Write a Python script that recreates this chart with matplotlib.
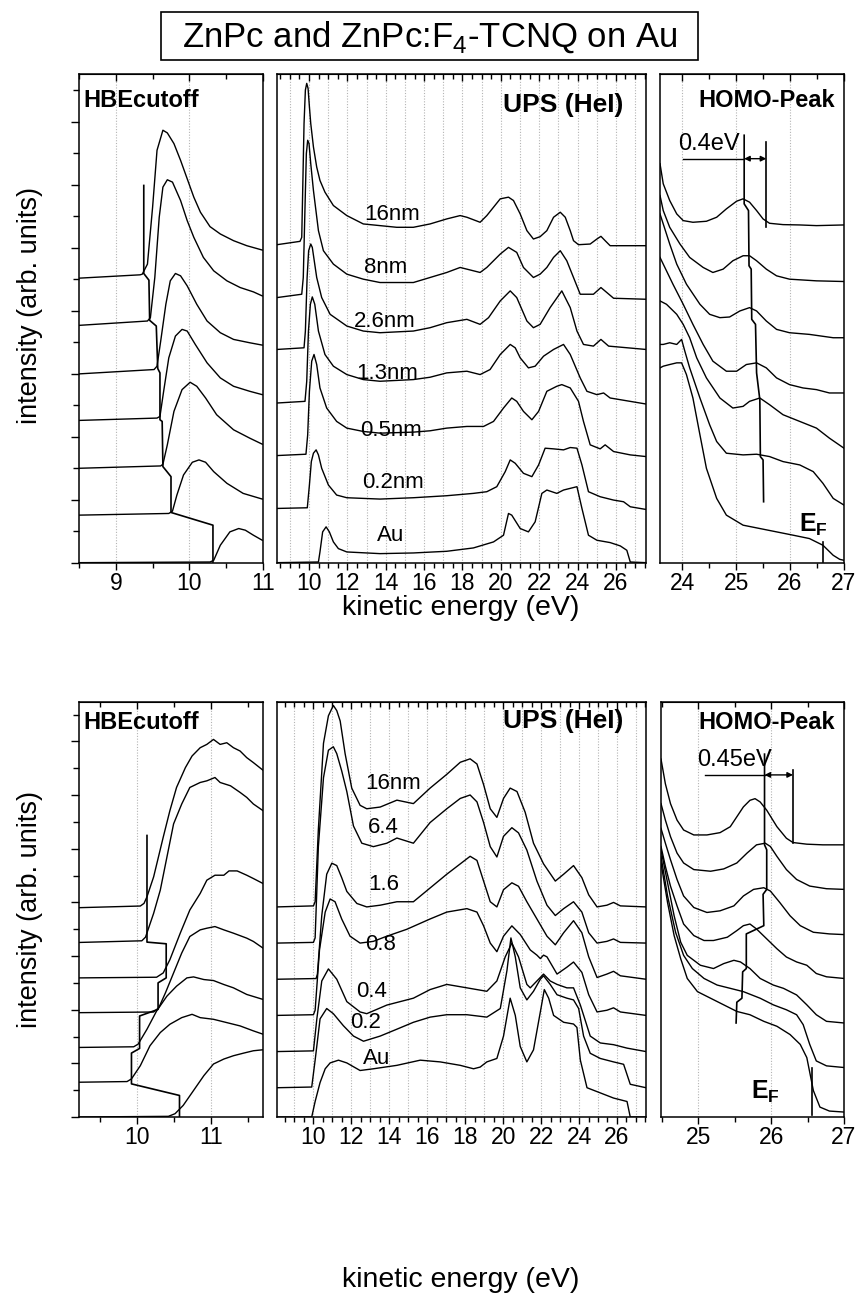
import numpy as np
import matplotlib
matplotlib.use("Agg")
import matplotlib.pyplot as plt
from matplotlib.patches import Rectangle
from matplotlib.ticker import MultipleLocator, NullFormatter

plt.rcParams['font.family'] = ['Liberation Sans', 'DejaVu Sans']
plt.rcParams['mathtext.fontset'] = 'custom'
plt.rcParams['mathtext.rm'] = 'Liberation Sans'
plt.rcParams['mathtext.bf'] = 'Liberation Sans:bold'

# ---------------- top row: ZnPc on Au ----------------
A_names = ['16nm', '8nm', '2.6nm', '1.3nm', '0.5nm', '0.2nm', 'Au']

# high binding energy cutoff
A_cut_x = [
    [8.50, 9.33, 9.36, 9.43, 9.50, 9.56, 9.64, 9.70, 9.79, 9.88, 9.97, 10.06, 10.15, 10.28, 10.42, 10.60, 10.78, 10.99],
    [8.50, 9.43, 9.47, 9.53, 9.59, 9.64, 9.70, 9.77, 9.88, 9.97, 10.06, 10.19, 10.33, 10.51, 10.69, 10.87, 10.99],
    [8.50, 9.52, 9.56, 9.61, 9.68, 9.74, 9.81, 9.88, 9.97, 10.10, 10.24, 10.42, 10.60, 10.82, 10.99],
    [8.50, 9.56, 9.60, 9.65, 9.72, 9.81, 9.90, 9.97, 10.08, 10.24, 10.42, 10.60, 10.82, 10.99],
    [8.50, 9.61, 9.64, 9.70, 9.79, 9.90, 10.01, 10.10, 10.22, 10.37, 10.60, 10.82, 10.99],
    [8.50, 9.72, 9.77, 9.83, 9.92, 10.04, 10.13, 10.22, 10.33, 10.51, 10.73, 10.99],
    [8.50, 10.28, 10.33, 10.42, 10.55, 10.67, 10.76, 10.87, 10.99],
]
A_cut_y = [
    [851, 861, 863, 893, 1063, 1233, 1293, 1285, 1253, 1203, 1148, 1093, 1048, 1005, 983, 963, 948, 935],
    [710, 723, 733, 853, 1033, 1123, 1145, 1138, 1083, 1023, 973, 913, 873, 843, 823, 810, 798],
    [565, 578, 588, 663, 773, 843, 865, 858, 828, 773, 723, 688, 668, 658, 651],
    [426, 433, 438, 513, 613, 678, 698, 693, 653, 598, 553, 528, 513, 503],
    [283, 290, 295, 353, 453, 518, 540, 528, 493, 443, 398, 373, 355],
    [143, 148, 155, 203, 263, 301, 308, 301, 273, 238, 208, 191],
    [1, 3, 8, 53, 93, 103, 98, 83, 68],
]
A_cut_edge_x = [9.38, 9.38, 9.45, 9.46, 9.55, 9.57, 9.60, 9.60, 9.63, 9.64, 9.75, 9.75, 10.32, 10.32]
A_cut_edge_y = [1128, 865, 845, 725, 708, 581, 568, 428, 423, 288, 258, 151, 113, 3]

# full UPS spectra
A_ups_x = [
    [8.33, 9.53, 9.62, 9.67, 9.74, 9.81, 9.88, 9.95, 10.02, 10.09, 10.23, 10.40, 10.57, 10.83, 11.27, 11.97,
     12.83, 13.70, 14.57, 15.44, 16.31, 17.18, 17.88, 18.23, 18.92, 19.27, 19.97, 20.40, 20.66, 21.01, 21.36,
     21.70, 22.05, 22.40, 22.75, 23.10, 23.36, 23.62, 23.79, 24.05, 24.66, 25.01, 25.22, 25.44, 25.70, 27.57],
    [8.33, 9.62, 9.70, 9.79, 9.86, 9.93, 10.00, 10.09, 10.23, 10.49, 10.75, 11.27, 11.97, 12.83, 13.70, 15.44,
     16.31, 17.18, 17.88, 18.92, 19.27, 19.97, 20.40, 20.83, 21.18, 21.70, 22.05, 22.40, 22.75, 23.10, 23.44,
     23.79, 24.14, 24.83, 25.22, 25.53, 25.88, 27.57],
    [8.33, 9.74, 9.81, 9.90, 9.98, 10.09, 10.17, 10.40, 10.66, 11.10, 11.97, 12.83, 13.70, 15.44, 16.31, 17.18,
     18.23, 18.92, 19.36, 19.97, 20.49, 20.83, 21.36, 21.70, 22.05, 22.57, 23.18, 23.62, 23.97, 24.31, 24.83,
     25.22, 25.62, 27.57],
    [8.33, 9.79, 9.88, 9.97, 10.07, 10.17, 10.30, 10.49, 10.83, 11.27, 11.97, 12.83, 13.70, 15.44, 16.31, 17.18,
     18.23, 18.92, 19.44, 19.97, 20.49, 20.75, 21.01, 21.44, 21.79, 22.23, 22.75, 23.27, 23.62, 24.14, 24.49,
     25.01, 25.36, 25.70, 27.57],
    [8.33, 9.84, 9.93, 10.02, 10.14, 10.26, 10.40, 10.57, 10.92, 11.44, 11.97, 12.83, 13.70, 15.44, 16.31, 17.18,
     18.23, 19.10, 19.62, 20.14, 20.57, 20.83, 21.18, 21.62, 21.97, 22.40, 22.92, 23.18, 23.62, 24.05, 24.31,
     24.66, 25.18, 25.44, 25.88, 26.75, 27.57],
    [8.33, 9.91, 10.02, 10.12, 10.23, 10.37, 10.49, 10.66, 11.01, 11.44, 11.97, 13.70, 15.44, 17.18, 18.57, 19.27,
     19.79, 20.23, 20.49, 20.75, 21.18, 21.62, 21.97, 22.31, 22.75, 23.27, 23.62, 23.97, 24.23, 24.57, 25.18,
     25.88, 26.40, 26.75, 27.57],
    [8.33, 10.49, 10.57, 10.71, 10.89, 11.06, 11.27, 11.53, 11.97, 13.70, 15.44, 17.18, 18.57, 19.62, 20.14, 20.40,
     20.57, 21.01, 21.44, 21.79, 22.14, 22.40, 22.92, 23.27, 23.97, 24.23, 24.57, 25.01, 25.70, 26.23, 26.57,
     26.75, 27.57],
]
A_ups_y = [
    [951, 961, 973, 1113, 1313, 1413, 1433, 1418, 1363, 1313, 1243, 1183, 1143, 1108, 1068, 1038, 1013, 1008,
     1003, 1003, 1013, 1028, 1038, 1033, 1018, 1038, 1088, 1093, 1083, 1043, 993, 968, 975, 993, 1033, 1048,
     1033, 993, 963, 951, 953, 968, 976, 963, 948, 948],
    [793, 803, 853, 1063, 1223, 1263, 1253, 1193, 1113, 993, 933, 893, 863, 848, 838, 838, 853, 868, 883, 868,
     883, 923, 943, 928, 883, 853, 863, 883, 913, 933, 903, 853, 803, 803, 823, 808, 791, 788],
    [638, 643, 693, 853, 933, 953, 943, 853, 793, 743, 708, 693, 688, 693, 703, 718, 728, 713, 733, 783, 813,
     793, 723, 703, 713, 763, 813, 763, 693, 653, 648, 668, 648, 638],
    [478, 483, 543, 693, 773, 795, 773, 693, 623, 588, 563, 548, 543, 548, 555, 568, 573, 563, 578, 623, 653,
     643, 613, 583, 588, 618, 638, 653, 623, 553, 513, 503, 508, 493, 475],
    [321, 325, 383, 513, 603, 623, 593, 523, 463, 423, 403, 393, 388, 391, 395, 403, 408, 408, 423, 463, 493,
     483, 453, 428, 453, 513, 528, 533, 523, 483, 423, 353, 341, 353, 333, 323, 318],
    [163, 165, 233, 303, 328, 338, 323, 283, 233, 203, 195, 191, 195, 201, 208, 213, 228, 273, 308, 298, 268,
     258, 293, 343, 341, 338, 345, 343, 293, 213, 198, 188, 183, 168, 160],
    [1, 3, 33, 93, 108, 93, 63, 43, 33, 28, 30, 35, 45, 63, 83, 148, 143, 103, 93, 123, 208, 218, 208, 218,
     228, 163, 83, 68, 61, 51, 38, 3, 1],
]

# HOMO region
A_homo_x = [
    [23.59, 23.65, 23.77, 23.90, 24.02, 24.20, 24.45, 24.64, 24.82, 25.01, 25.13, 25.25, 25.38, 25.50, 25.62, 25.87, 26.18, 26.49, 27.00],
    [23.59, 23.65, 23.77, 23.96, 24.14, 24.39, 24.57, 24.76, 24.94, 25.13, 25.25, 25.38, 25.56, 25.75, 25.99, 26.49, 27.00],
    [23.59, 23.65, 23.77, 23.90, 24.08, 24.33, 24.51, 24.70, 24.88, 25.07, 25.25, 25.38, 25.56, 25.75, 25.99, 26.36, 26.80, 27.00],
    [23.59, 23.65, 23.83, 24.02, 24.20, 24.39, 24.57, 24.82, 25.01, 25.19, 25.38, 25.56, 25.75, 25.99, 26.24, 26.49, 26.73, 27.00],
    [23.59, 23.71, 23.90, 24.02, 24.14, 24.27, 24.45, 24.70, 24.94, 25.13, 25.25, 25.44, 25.62, 25.87, 26.18, 26.49, 26.73, 27.00],
    [23.59, 23.65, 23.77, 23.90, 23.99, 24.05, 24.14, 24.33, 24.51, 24.64, 24.82, 25.13, 25.38, 25.62, 25.87, 26.18, 26.43, 26.61, 26.80, 27.00],
    [23.59, 23.65, 23.77, 23.90, 23.99, 24.08, 24.20, 24.33, 24.45, 24.64, 24.82, 25.13, 25.44, 25.75, 26.06, 26.36, 26.61, 26.80, 26.92, 27.00],
]
A_homo_y = [
    [1193, 1133, 1083, 1043, 1023, 1018, 1021, 1033, 1058, 1081, 1088, 1078, 1053, 1028, 1015, 1011, 1010, 1008, 1010],
    [1098, 1053, 1003, 953, 913, 883, 868, 878, 903, 918, 918, 903, 878, 858, 848, 843, 841],
    [1043, 1013, 953, 893, 833, 773, 743, 733, 735, 753, 763, 753, 723, 698, 688, 683, 673, 673],
    [913, 893, 833, 773, 713, 653, 603, 573, 573, 593, 598, 583, 553, 533, 523, 518, 508, 508],
    [783, 773, 743, 713, 673, 613, 553, 493, 463, 468, 483, 493, 473, 443, 423, 403, 373, 343],
    [653, 653, 658, 653, 668, 633, 583, 493, 413, 363, 328, 323, 325, 318, 303, 293, 273, 238, 193, 173],
    [583, 588, 593, 598, 598, 563, 493, 383, 283, 193, 143, 113, 103, 93, 83, 73, 53, 23, 11, 8],
]
A_peak_x = [25.15, 25.15, 25.23, 25.24, 25.28, 25.29, 25.36, 25.38, 25.44, 25.45, 25.50, 25.51]
A_peak_y = [1278, 1073, 1053, 888, 878, 728, 713, 568, 488, 318, 308, 183]
A_onset_x = 25.56
A_onset_y = [1258, 1003]
A_shift_y = 1208
A_shift_from = 24.02
A_fermi_x = 26.61
A_fermi_y = [63, 3]

# ---------------- bottom row: ZnPc:F4-TCNQ on Au ----------------
B_names = ['16nm', '6.4', '1.6', '0.8', '0.4', '0.2', 'Au']

B_cut_x = [
    [9.21, 10.04, 10.09, 10.13, 10.22, 10.35, 10.44, 10.53, 10.65, 10.74, 10.85, 10.94, 11.03, 11.12, 11.21, 11.30, 11.39, 11.48, 11.57, 11.70],
    [9.21, 10.06, 10.11, 10.22, 10.31, 10.40, 10.49, 10.60, 10.71, 10.85, 10.94, 11.05, 11.12, 11.26, 11.39, 11.48, 11.57, 11.70],
    [9.21, 10.26, 10.35, 10.44, 10.58, 10.71, 10.85, 10.94, 11.05, 11.17, 11.24, 11.35, 11.48, 11.57, 11.70],
    [9.21, 10.22, 10.29, 10.38, 10.49, 10.60, 10.71, 10.85, 10.94, 11.05, 11.17, 11.30, 11.48, 11.57, 11.70],
    [9.21, 9.95, 10.01, 10.13, 10.26, 10.40, 10.53, 10.67, 10.76, 10.90, 11.03, 11.17, 11.30, 11.48, 11.70],
    [9.21, 9.86, 9.92, 10.04, 10.17, 10.31, 10.44, 10.60, 10.74, 10.85, 11.03, 11.21, 11.39, 11.57, 11.70],
    [9.21, 10.42, 10.51, 10.62, 10.76, 10.90, 11.03, 11.17, 11.30, 11.44, 11.57, 11.70],
]
B_cut_y = [
    [632, 637, 645, 665, 725, 845, 925, 995, 1055, 1090, 1115, 1125, 1140, 1125, 1130, 1115, 1105, 1085, 1070, 1047],
    [527, 532, 543, 615, 685, 785, 885, 945, 995, 1010, 1015, 1025, 1010, 1000, 980, 965, 945, 925],
    [420, 422, 435, 475, 555, 625, 675, 715, 730, 730, 743, 743, 730, 720, 705],
    [315, 317, 330, 375, 435, 495, 545, 565, 570, 575, 565, 555, 540, 530, 510],
    [210, 212, 220, 265, 320, 365, 395, 420, 423, 415, 412, 400, 390, 370, 355],
    [105, 107, 115, 155, 215, 255, 280, 300, 310, 300, 295, 285, 275, 260, 250],
    [0, 2, 10, 35, 80, 125, 160, 175, 185, 193, 200, 203],
]
B_cut_edge_x = [10.13, 10.13, 10.39, 10.39, 10.28, 10.28, 10.03, 10.03, 9.92, 9.92, 10.57, 10.57]
B_cut_edge_y = [850, 528, 523, 420, 405, 325, 305, 207, 193, 100, 65, 0]

B_ups_x = [
    [8.08, 10.00, 10.09, 10.26, 10.53, 10.79, 11.05, 11.23, 11.41, 11.67, 12.02, 12.46, 12.81, 13.52, 14.40,
     15.27, 16.15, 17.03, 17.74, 18.26, 18.62, 18.97, 19.32, 19.67, 20.02, 20.37, 20.73, 21.16, 21.60, 22.13,
     22.75, 23.19, 23.71, 24.15, 24.51, 24.95, 25.47, 25.82, 26.18, 27.53],
    [8.08, 10.00, 10.09, 10.26, 10.53, 10.79, 11.05, 11.23, 11.49, 11.76, 12.11, 12.55, 13.16, 13.87, 14.40,
     15.27, 16.15, 17.03, 17.74, 18.26, 18.62, 18.97, 19.32, 19.67, 20.02, 20.46, 20.81, 21.25, 21.78, 22.31,
     22.75, 23.19, 23.71, 24.15, 24.51, 24.95, 25.47, 25.82, 26.18, 27.53],
    [8.08, 10.14, 10.21, 10.44, 10.70, 10.97, 11.23, 11.49, 11.76, 12.29, 12.81, 13.52, 14.40, 15.27, 16.15,
     17.03, 17.74, 18.26, 18.62, 18.97, 19.32, 19.67, 20.02, 20.46, 20.81, 21.25, 21.78, 22.31, 22.75, 23.19,
     23.71, 24.15, 24.51, 24.95, 25.47, 25.82, 26.18, 27.53],
    [8.08, 10.00, 10.09, 10.32, 10.62, 10.88, 11.14, 11.49, 11.93, 12.46, 13.16, 13.87, 14.92, 16.15, 17.03,
     18.09, 18.62, 18.97, 19.32, 19.67, 20.02, 20.46, 20.90, 21.43, 21.78, 21.96, 22.13, 22.31, 22.84, 23.36,
     23.71, 24.15, 24.51, 24.95, 25.47, 25.82, 26.18, 27.53],
    [8.08, 10.00, 10.18, 10.44, 10.79, 11.23, 11.76, 12.46, 12.81, 13.87, 15.27, 16.15, 17.03, 18.09, 19.14,
     19.67, 20.11, 20.46, 20.81, 21.25, 21.43, 21.78, 22.13, 22.48, 22.84, 23.36, 23.71, 24.07, 24.59, 25.12,
     25.82, 26.53, 27.53],
    [8.08, 9.91, 10.09, 10.35, 10.70, 11.05, 11.58, 12.11, 12.64, 13.52, 14.40, 15.27, 16.15, 17.03, 18.09,
     19.14, 19.85, 20.20, 20.41, 20.64, 20.90, 21.25, 21.60, 21.96, 22.13, 22.48, 22.84, 23.36, 23.71, 23.98,
     24.24, 24.59, 25.12, 25.82, 26.35, 26.70, 27.53],
    [8.08, 9.91, 10.09, 10.35, 10.62, 10.88, 11.32, 11.76, 12.46, 13.16, 14.40, 15.63, 16.68, 17.74, 18.44,
     18.79, 19.14, 19.67, 20.02, 20.37, 20.64, 20.90, 21.25, 21.60, 21.96, 22.17, 22.40, 22.66, 23.19, 23.71,
     23.89, 24.07, 24.42, 25.12, 25.82, 26.53, 26.70, 27.53],
]
B_ups_y = [
    [610, 613, 625, 835, 1085, 1165, 1195, 1180, 1150, 1055, 955, 905, 895, 900, 920, 910, 955, 995, 1030, 1040,
     1025, 965, 895, 870, 925, 955, 945, 885, 795, 735, 685, 705, 730, 695, 645, 610, 615, 623, 613, 610],
    [505, 507, 520, 785, 985, 1065, 1075, 1055, 1005, 945, 845, 795, 785, 795, 810, 795, 855, 895, 925, 935,
     915, 855, 785, 755, 815, 840, 825, 775, 685, 615, 585, 605, 625, 595, 535, 505, 510, 517, 507, 505],
    [400, 402, 415, 585, 705, 737, 730, 695, 655, 620, 610, 615, 625, 625, 665, 705, 735, 757, 745, 685, 625,
     610, 660, 680, 670, 625, 575, 525, 500, 535, 570, 535, 465, 405, 415, 423, 410, 400],
    [295, 297, 310, 485, 595, 633, 625, 575, 525, 505, 510, 525, 545, 575, 595, 605, 595, 555, 505, 480, 525,
     555, 530, 485, 470, 460, 470, 465, 415, 435, 450, 420, 355, 305, 310, 317, 305, 295],
    [190, 192, 285, 395, 430, 400, 335, 305, 300, 325, 345, 370, 385, 375, 365, 395, 465, 505, 465, 385, 375,
     395, 415, 395, 385, 375, 375, 325, 235, 215, 210, 200, 190],
    [85, 87, 165, 285, 315, 300, 265, 235, 220, 235, 255, 275, 290, 297, 297, 290, 315, 425, 520, 465, 375,
     340, 365, 400, 410, 385, 355, 345, 340, 315, 235, 185, 170, 160, 153, 95, 85],
    [0, 0, 45, 100, 140, 157, 165, 157, 135, 140, 150, 165, 160, 150, 140, 145, 160, 170, 235, 345, 295, 205,
     160, 195, 305, 370, 345, 295, 275, 270, 260, 165, 85, 70, 55, 45, 0, 0],
]

B_homo_x = [
    [24.49, 24.55, 24.62, 24.71, 24.80, 24.94, 25.12, 25.30, 25.44, 25.53, 25.62, 25.71, 25.78, 25.85, 25.94, 26.08, 26.21, 26.30, 26.49, 26.71, 27.00],
    [24.49, 24.55, 24.62, 24.71, 24.80, 24.94, 25.17, 25.35, 25.53, 25.67, 25.80, 25.92, 25.99, 26.08, 26.21, 26.35, 26.53, 26.76, 27.00],
    [24.49, 24.55, 24.62, 24.71, 24.80, 24.94, 25.12, 25.30, 25.49, 25.62, 25.76, 25.90, 25.99, 26.12, 26.26, 26.40, 26.58, 26.80, 27.00],
    [24.49, 24.55, 24.62, 24.71, 24.80, 24.94, 25.08, 25.21, 25.40, 25.53, 25.62, 25.71, 25.80, 25.94, 26.08, 26.21, 26.35, 26.49, 26.62, 26.76, 27.00],
    [24.49, 24.58, 24.67, 24.76, 24.85, 25.03, 25.21, 25.35, 25.49, 25.58, 25.71, 25.85, 26.03, 26.17, 26.35, 26.49, 26.62, 26.76, 27.00],
    [24.49, 24.58, 24.69, 24.80, 24.92, 25.08, 25.26, 25.44, 25.62, 25.85, 26.03, 26.21, 26.35, 26.44, 26.53, 26.62, 26.76, 27.00],
    [24.49, 24.58, 24.67, 24.76, 24.85, 24.99, 25.17, 25.35, 25.53, 25.71, 25.90, 26.08, 26.26, 26.40, 26.49, 26.58, 26.67, 26.80, 27.00],
]
B_homo_y = [
    [1085, 1010, 950, 900, 870, 855, 855, 862, 880, 910, 940, 960, 965, 955, 930, 880, 845, 832, 827, 825, 825],
    [950, 900, 850, 800, 770, 750, 745, 752, 770, 800, 825, 830, 820, 790, 750, 720, 700, 692, 690],
    [875, 830, 780, 720, 670, 635, 620, 625, 640, 670, 690, 695, 685, 650, 610, 580, 560, 555, 553],
    [820, 760, 700, 640, 585, 550, 535, 535, 545, 565, 580, 585, 570, 540, 510, 485, 470, 460, 435, 425, 420],
    [810, 710, 610, 530, 490, 460, 450, 465, 475, 470, 450, 420, 400, 390, 370, 340, 310, 290, 285],
    [790, 670, 560, 490, 450, 420, 400, 390, 380, 360, 340, 325, 310, 280, 220, 170, 155, 150],
    [770, 650, 550, 480, 420, 380, 360, 340, 320, 310, 290, 275, 250, 220, 180, 80, 30, 18, 15],
]
B_peak_x = [25.91, 25.91, 25.94, 25.94, 25.89, 25.90, 25.66, 25.66, 25.61, 25.60, 25.53, 25.52]
B_peak_y = [1100, 825, 810, 690, 675, 580, 555, 450, 440, 360, 348, 285]
B_onset_x = 26.30
B_onset_y = [1052, 830]
B_shift_y = 1037
B_shift_from = 25.09
B_fermi_x = 26.56
B_fermi_y = [150, 5]

# ---------------- figure ----------------
W, H = 860, 1297
fig = plt.figure(figsize=(W / 100, H / 100), dpi=100)


def rect(l, r, t, b):
    return [l / W, 1 - b / H, (r - l) / W, (b - t) / H]


def setup(ax, xlim, ylim, major, minor, grid, ystep=None):
    ax.set_xlim(xlim)
    ax.set_ylim(ylim)
    ax.xaxis.set_major_locator(MultipleLocator(major))
    ax.xaxis.set_minor_locator(MultipleLocator(minor))
    ax.tick_params(axis='x', which='both', direction='out', width=1.0, labelsize=16.5, pad=1.5)
    ax.tick_params(axis='x', which='major', length=5)
    ax.tick_params(axis='x', which='minor', length=3.5)
    top = ax.secondary_xaxis('top')
    top.xaxis.set_major_locator(MultipleLocator(major))
    top.xaxis.set_minor_locator(MultipleLocator(minor))
    top.xaxis.set_major_formatter(NullFormatter())
    top.tick_params(axis='x', which='both', direction='in', width=1.0)
    top.tick_params(axis='x', which='major', length=5)
    top.tick_params(axis='x', which='minor', length=3.5)
    for g in np.arange(np.ceil(xlim[0]), xlim[1] - 0.01, grid):
        ax.axvline(g, color='#b4b4b4', lw=0.8, ls=(0, (1, 1.5)), zorder=0)
    if ystep:
        ax.yaxis.set_major_locator(MultipleLocator(2 * ystep))
        ax.yaxis.set_minor_locator(MultipleLocator(ystep))
        ax.yaxis.set_major_formatter(NullFormatter())
        ax.tick_params(axis='y', which='both', direction='out', width=1.0)
        ax.tick_params(axis='y', which='major', length=6)
        ax.tick_params(axis='y', which='minor', length=4)
    else:
        ax.set_yticks([])
    for s in ax.spines.values():
        s.set_linewidth(1.1)


def curves(ax, xs, ys):
    for x, y in zip(xs, ys):
        ax.plot(x, y, color='black', lw=1.0)


def homo_marks(ax, px, py, onset_x, onset_y, shift_y, shift_from, fermi_x, fermi_y, shift_txt):
    ax.plot(px, py, color='black', lw=1.2)
    ax.plot([onset_x, onset_x], onset_y, color='black', lw=1.2)
    ax.plot([shift_from, px[0]], [shift_y, shift_y], color='black', lw=1.0)
    ax.annotate('', xy=(onset_x, shift_y), xytext=(px[0], shift_y),
                arrowprops=dict(arrowstyle='<|-|>', color='black', lw=1.0,
                                mutation_scale=8, shrinkA=0, shrinkB=0))
    ax.text(shift_from - 0.1, shift_y + 12, shift_txt, fontsize=17, ha='left', va='bottom')
    ax.plot([fermi_x, fermi_x], fermi_y, color='black', lw=1.2)


# top row
axA1 = fig.add_axes(rect(79, 263, 74, 563))
axA2 = fig.add_axes(rect(277, 646, 74, 563))
axA3 = fig.add_axes(rect(660, 844, 74, 563))

curves(axA1, A_cut_x, A_cut_y)
axA1.plot(A_cut_edge_x, A_cut_edge_y, color='black', lw=1.2)
setup(axA1, (8.5, 11.0), (0, 1461), 1, 0.5, 1, ystep=94.2)
axA1.text(8.56, 1383, 'HBEcutoff', fontsize=17, fontweight='bold', ha='left', va='center')

curves(axA2, A_ups_x, A_ups_y)
setup(axA2, (8.33, 27.57), (0, 1461), 2, 0.5, 1)
axA2.text(26.40, 1368, 'UPS (HeI)', fontsize=19, fontweight='bold', ha='right', va='center')
A_lab_xy = [(14.31, 1041), (13.97, 883), (13.97, 723), (14.05, 565), (14.28, 395), (14.40, 241), (14.23, 83)]
for name, (lx, ly) in zip(A_names, A_lab_xy):
    axA2.text(lx, ly, name, fontsize=16, ha='center', va='center')

curves(axA3, A_homo_x, A_homo_y)
setup(axA3, (23.59, 27.0), (0, 1461), 1, 0.5, 1)
homo_marks(axA3, A_peak_x, A_peak_y, A_onset_x, A_onset_y, A_shift_y, A_shift_from,
           A_fermi_x, A_fermi_y, '0.4eV')
axA3.text(26.83, 1383, 'HOMO-Peak', fontsize=17, fontweight='bold', ha='right', va='center')
axA3.text(26.43, 113, r'$\mathbf{E}_\mathbf{F}$', fontsize=18, ha='center', va='center')

# bottom row
axB1 = fig.add_axes(rect(79, 263, 702, 1117))
axB2 = fig.add_axes(rect(277, 646, 702, 1117))
axB3 = fig.add_axes(rect(661, 844, 702, 1117))

curves(axB1, B_cut_x, B_cut_y)
axB1.plot(B_cut_edge_x, B_cut_edge_y, color='black', lw=1.2)
setup(axB1, (9.21, 11.70), (0, 1253), 1, 0.5, 1, ystep=81)
axB1.text(9.27, 1192, 'HBEcutoff', fontsize=17, fontweight='bold', ha='left', va='center')

curves(axB2, B_ups_x, B_ups_y)
setup(axB2, (8.08, 27.53), (0, 1205), 2, 0.5, 1)
axB2.text(26.35, 1150, 'UPS (HeI)', fontsize=19, fontweight='bold', ha='right', va='center')
B_lab_xy = [(14.22, 967), (13.69, 840), (13.69, 675), (13.52, 500), (13.08, 365), (12.73, 275), (13.34, 170)]
for name, (lx, ly) in zip(B_names, B_lab_xy):
    axB2.text(lx, ly, name, fontsize=16, ha='center', va='center')

curves(axB3, B_homo_x, B_homo_y)
setup(axB3, (24.49, 27.0), (0, 1258), 1, 0.5, 1)
homo_marks(axB3, B_peak_x, B_peak_y, B_onset_x, B_onset_y, B_shift_y, B_shift_from,
           B_fermi_x, B_fermi_y, '0.45eV')
axB3.text(26.87, 1197, 'HOMO-Peak', fontsize=17, fontweight='bold', ha='right', va='center')
axB3.text(25.92, 75, r'$\mathbf{E}_\mathbf{F}$', fontsize=18, ha='center', va='center')

# labels and title
fig.text(30 / W, 1 - 305 / H, 'intensity (arb. units)', rotation=90, fontsize=19.5, ha='center', va='center')
fig.text(30 / W, 1 - 910 / H, 'intensity (arb. units)', rotation=90, fontsize=19.5, ha='center', va='center')
fig.text(461 / W, 1 - 608 / H, 'kinetic energy (eV)', fontsize=20.5, ha='center', va='center')
fig.text(461 / W, 1 - 1280 / H, 'kinetic energy (eV)', fontsize=20.5, ha='center', va='center')

fig.patches.append(Rectangle((161 / W, 1 - 60 / H), 537 / W, 48 / H, transform=fig.transFigure,
                             fill=False, edgecolor='black', lw=1.2))
fig.text(430 / W, 1 - 37 / H, r'ZnPc and ZnPc:F$_4$-TCNQ on Au', fontsize=25, ha='center', va='center')

fig.savefig('out.png', dpi=100)
